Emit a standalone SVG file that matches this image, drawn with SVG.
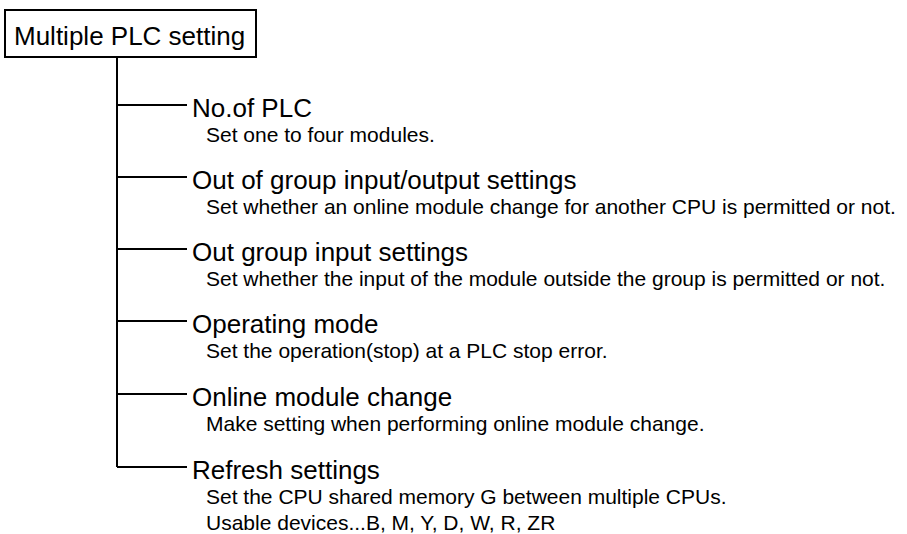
<svg xmlns="http://www.w3.org/2000/svg" width="907" height="534" viewBox="0 0 907 534">
<style>
.t{font-family:"Liberation Sans",Arial,sans-serif;fill:#000}
.lbl{font-size:26px}
.desc{font-size:21px}
.ln{stroke:#000;stroke-width:2;fill:none}
</style>
<rect width="907" height="534" fill="#fff"/>
<g id="root">
<rect x="5" y="10" width="251" height="47" fill="#fff" stroke="#000" stroke-width="2"/>
<text class="t lbl" x="14" y="45">Multiple PLC setting</text>
</g>
<g id="connectors">
<path class="ln" d="M117 57V467"/>
<path class="ln" d="M117 105H187M117 177H187M117 249H187M117 321H187M117 394H187M117 467H187"/>
</g>
<g id="n1">
<text class="t lbl" x="192" y="117">No.of PLC</text>
<text class="t desc" x="206" y="142">Set one to four modules.</text>
</g>
<g id="n2">
<text class="t lbl" x="192" y="189">Out of group input/output settings</text>
<text class="t desc" x="206" y="214">Set whether an online module change for another CPU is permitted or not.</text>
</g>
<g id="n3">
<text class="t lbl" x="192" y="261">Out group input settings</text>
<text class="t desc" x="206" y="286">Set whether the input of the module outside the group is permitted or not.</text>
</g>
<g id="n4">
<text class="t lbl" x="192" y="333">Operating mode</text>
<text class="t desc" x="206" y="358">Set the operation(stop) at a PLC stop error.</text>
</g>
<g id="n5">
<text class="t lbl" x="192" y="406">Online module change</text>
<text class="t desc" x="206" y="431">Make setting when performing online module change.</text>
</g>
<g id="n6">
<text class="t lbl" x="192" y="479">Refresh settings</text>
<text class="t desc" x="206" y="504">Set the CPU shared memory G between multiple CPUs.</text>
<text class="t desc" x="206" y="530">Usable devices...B, M, Y, D, W, R, ZR</text>
</g>
</svg>
